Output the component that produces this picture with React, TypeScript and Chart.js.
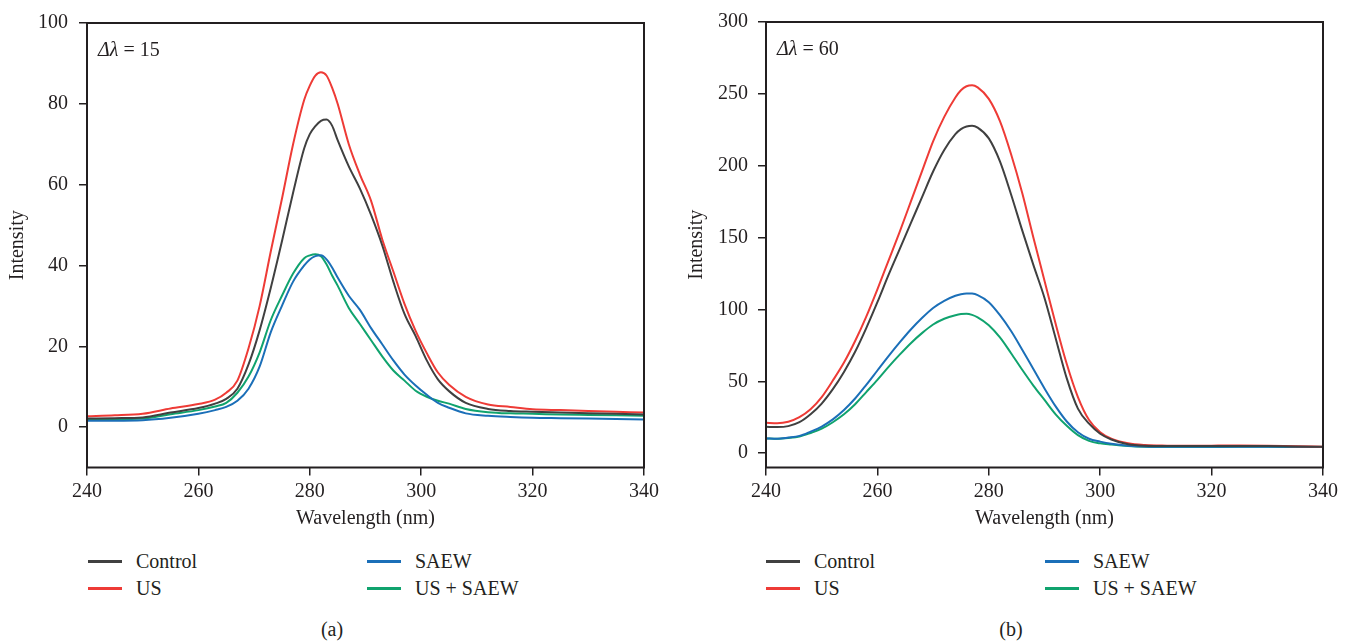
import { useEffect, useRef } from 'react';
import { Chart, registerables } from 'chart.js';

Chart.register(...registerables);

// ---------- Data ----------
const seriesNames = ['Control', 'US', 'SAEW', 'US + SAEW'];
const seriesColors = ['#404040', '#ee3b36', '#1b6fb8', '#10a36e'];

const xTickValues = [240, 260, 280, 300, 320, 340];
const yTicksA = [0, 20, 40, 60, 80, 100];
const yTicksB = [0, 50, 100, 150, 200, 250, 300];

// Panel (a): Δλ = 15
const wavelengthA = [240, 245, 250, 255, 260, 263, 265, 267, 269, 271, 273, 275, 277, 279, 280, 281, 282, 283, 284, 285, 287, 289, 291, 293, 295, 297, 299, 301, 303, 305, 308, 312, 316, 320, 325, 330, 335, 340];
const controlA = [2.1, 2.2, 2.4, 3.6, 4.7, 5.8, 7, 9.5, 15.5, 24, 34.5, 46, 58, 69, 72.5, 74.5, 75.8, 76.1, 74.6, 71, 64.5, 59, 52.5, 45, 36, 28, 22.5, 16.5, 11.8, 8.9, 6, 4.5, 4, 3.8, 3.6, 3.4, 3.3, 3.1];
const usA = [2.7, 2.9, 3.3, 4.6, 5.7, 6.8, 8.5, 11.5, 19.5, 30, 43.5, 56.5, 70, 81, 84.5, 87, 87.8, 87, 84, 80, 70, 62.5, 56, 46.5, 38.5, 30.5, 23.8, 18.3, 13.5, 10.5, 7.5, 5.6, 5, 4.4, 4.2, 4, 3.8, 3.6];
const saewA = [1.6, 1.6, 1.7, 2.3, 3.3, 4.2, 5, 6.5, 9.5, 15, 23.5, 30, 36, 40, 41.5, 42.3, 42.5, 41.5, 39.5, 37, 32.5, 29, 24.5, 20.5, 16.5, 13, 10.3, 8, 6, 4.8, 3.4, 2.8, 2.5, 2.3, 2.2, 2.1, 2, 1.9];
const usSaewA = [1.9, 1.9, 2.1, 3.2, 4.2, 5.1, 6, 8.5, 12.5, 18.5, 26.5, 32.5, 38, 41.8, 42.5, 42.8, 42.3, 40.3, 37.5, 35, 29.5, 25.5, 21.5, 17.5, 14, 11.5, 9, 7.5, 6.5, 5.8, 4.5, 3.7, 3.4, 3.3, 3.1, 3, 2.9, 2.8];

// Panel (b): Δλ = 60
const wavelengthB = [240, 242, 244, 246, 248, 250, 252, 254, 256, 258, 260, 262, 264, 266, 268, 270, 272, 274, 275, 276, 277, 278, 280, 282, 284, 286, 288, 290, 292, 294, 296, 298, 300, 302, 305, 308, 312, 316, 320, 325, 330, 335, 340];
const controlB = [18.3, 18.2, 18.8, 21.5, 27, 34.5, 44.5, 56.5, 70.5, 87, 105, 124, 142, 160, 178, 196, 211, 222, 225.5, 227.3, 227.8, 226.5, 219, 203, 180, 155, 131, 108, 80, 52, 31, 20.5, 13.5, 9.5, 6.2, 5.2, 5, 5, 5, 5, 4.9, 4.6, 4.4];
const usB = [21.1, 20.8, 21.8, 25, 30.5, 39, 50.5, 63, 78, 95, 114, 134, 154, 175, 196, 217, 234, 247.5, 252.5, 255.3, 256, 254.5, 246.5, 231, 208, 181, 150, 120, 90, 62, 39, 23, 14.5, 10, 6.8, 5.6, 5.2, 5.1, 5.2, 5.3, 5.2, 4.8, 4.5];
const saewB = [10.2, 10, 10.8, 12, 15, 18.5, 23.5, 30, 38, 47.5, 57.5, 67.5, 77, 86, 94, 101, 106, 109.5, 110.6, 111.1, 111, 110, 105, 96, 85, 72, 58.5, 45, 32.5, 22, 14.5, 10, 8, 6.5, 5.2, 4.6, 4.4, 4.4, 4.5, 4.5, 4.5, 4.4, 4.3];
const usSaewB = [10.2, 10, 10.5, 11.5, 14, 17, 21.5, 27, 34, 42.5, 51, 60, 68.5, 76.5, 83.5, 89.5, 93.5, 96, 96.8, 97, 96.2, 94.5, 89, 80.5, 69.5, 58, 47, 37, 27, 19, 12.5, 8.5, 6.8, 6, 5, 4.4, 4.2, 4.2, 4.3, 4.4, 4.4, 4.3, 4.2];

const INK = '#231f20';
const FONT = '"Liberation Serif", "Times New Roman", serif';

function toPoints(xs: number[], ys: number[]) {
  return xs.map((x, i) => ({ x, y: ys[i] }));
}

const framePlugin = {
  id: 'frameAndNote',
  afterDraw(chart: any) {
    const { ctx, chartArea } = chart;
    const note = chart.options.plugins.frameAndNote;
    ctx.save();
    ctx.strokeStyle = INK;
    ctx.lineWidth = 2;
    ctx.strokeRect(chartArea.left, chartArea.top, chartArea.right - chartArea.left, chartArea.bottom - chartArea.top);
    ctx.fillStyle = INK;
    ctx.textBaseline = 'middle';
    ctx.font = `italic 20px ${FONT}`;
    const x0 = chartArea.left + 11;
    const y0 = chartArea.top + 28;
    ctx.fillText('Δλ', x0, y0);
    const w = ctx.measureText('Δλ').width;
    ctx.font = `20px ${FONT}`;
    ctx.fillText(` = ${note.value}`, x0 + w, y0);
    ctx.restore();
  },
};

function makeConfig(wl: number[], ys: number[][], yTicks: number[], yMax: number, yAxisWidth: number, padRight: number, titlePad: number, labelPad: number, noteValue: number) {
  return {
    type: 'line',
    data: {
      datasets: ys.map((arr, i) => ({
        label: seriesNames[i],
        data: toPoints(wl, arr),
        borderColor: seriesColors[i],
        backgroundColor: seriesColors[i],
        borderWidth: 2,
        pointRadius: 0,
        cubicInterpolationMode: 'monotone',
        fill: false,
      })),
    },
    options: {
      animation: false,
      responsive: false,
      devicePixelRatio: 1,
      layout: { padding: { top: 20, right: padRight, bottom: 0, left: 0 } },
      plugins: {
        legend: { display: false },
        tooltip: { enabled: false },
        frameAndNote: { value: noteValue },
      },
      scales: {
        x: {
          type: 'linear',
          min: 240,
          max: 340,
          afterBuildTicks: (s: any) => { s.ticks = xTickValues.map((v) => ({ value: v })); },
          afterFit: (s: any) => { s.height = 72.5; },
          grid: { drawOnChartArea: false, drawTicks: true, tickLength: 8, color: INK, lineWidth: 1.5 },
          border: { display: false },
          ticks: { color: INK, font: { family: FONT, size: 20 }, padding: 4, maxRotation: 0 },
          title: { display: true, text: 'Wavelength (nm)', color: INK, font: { family: FONT, size: 20 }, padding: { top: 0, bottom: 9 } },
        },
        y: {
          type: 'linear',
          min: -10,
          max: yMax,
          afterBuildTicks: (s: any) => { s.ticks = yTicks.map((v) => ({ value: v })); },
          afterFit: (s: any) => { s.width = yAxisWidth; },
          grid: { drawOnChartArea: false, drawTicks: true, tickLength: 8, color: INK, lineWidth: 1.5 },
          border: { display: false },
          ticks: { color: INK, font: { family: FONT, size: 20 }, padding: labelPad },
          title: { display: true, text: 'Intensity', color: INK, font: { family: FONT, size: 20 }, padding: { top: titlePad, bottom: 0 } },
        },
      },
    },
    plugins: [framePlugin],
  };
}

function Legend({ left, colX2 }: { left: number; colX2: number }) {
  const items = [
    { i: 0, x: left, y: 561 },
    { i: 1, x: left, y: 588 },
    { i: 2, x: colX2, y: 561 },
    { i: 3, x: colX2, y: 588 },
  ];
  return (
    <>
      {items.map(({ i, x, y }) => (
        <div key={i}>
          <div style={{ position: 'absolute', left: x, top: y - 1.5, width: 34, height: 3, background: seriesColors[i] }} />
          <div style={{ position: 'absolute', left: x + 48, top: y - 12, height: 24, lineHeight: '24px', fontSize: 20, fontFamily: FONT, color: INK, whiteSpace: 'nowrap' }}>
            {seriesNames[i]}
          </div>
        </div>
      ))}
    </>
  );
}

export default function App() {
  const refA = useRef<HTMLCanvasElement>(null);
  const refB = useRef<HTMLCanvasElement>(null);

  useEffect(() => {
    const a = new Chart(refA.current as HTMLCanvasElement, makeConfig(wavelengthA, [controlA, usA, saewA, usSaewA], yTicksA, 100, 87, 32, 6, 11, 15) as any);
    const b = new Chart(refB.current as HTMLCanvasElement, makeConfig(wavelengthB, [controlB, usB, saewB, usSaewB], yTicksB, 300, 90, 30, 9, 10, 60) as any);
    return () => {
      a.destroy();
      b.destroy();
    };
  }, []);

  return (
    <div style={{ position: 'absolute', left: 0, top: 0, width: 1353, height: 642, background: '#fff', overflow: 'hidden' }}>
      <canvas ref={refA} width={676} height={540} style={{ position: 'absolute', left: 0, top: 0, width: 676, height: 540 }} />
      <canvas ref={refB} width={677} height={540} style={{ position: 'absolute', left: 676, top: 0, width: 677, height: 540 }} />
      <Legend left={88} colX2={367} />
      <Legend left={766} colX2={1045} />
      <div style={{ position: 'absolute', left: 300, width: 64, top: 617, height: 24, lineHeight: '24px', textAlign: 'center', fontSize: 20, fontFamily: FONT, color: INK }}>(a)</div>
      <div style={{ position: 'absolute', left: 979, width: 64, top: 617, height: 24, lineHeight: '24px', textAlign: 'center', fontSize: 20, fontFamily: FONT, color: INK }}>(b)</div>
    </div>
  );
}
